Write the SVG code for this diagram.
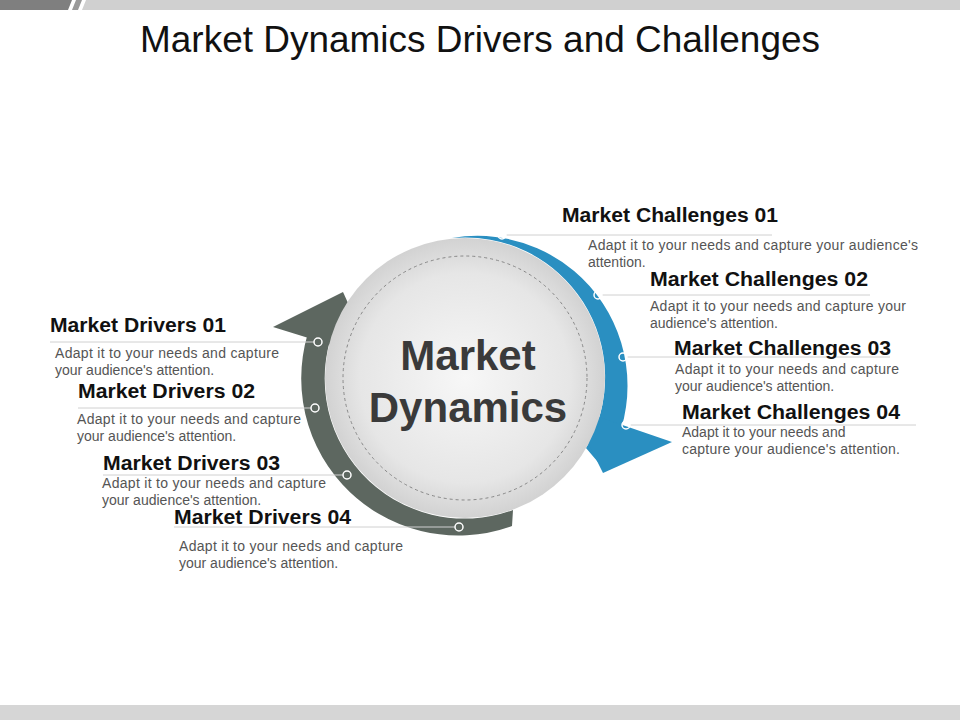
<svg xmlns="http://www.w3.org/2000/svg" width="960" height="720" viewBox="0 0 960 720">
<style>
.h{font-family:"Liberation Sans",Arial,sans-serif;font-weight:bold;font-size:20px;fill:#111}
.d{font-family:"Liberation Sans",Arial,sans-serif;font-size:14px;fill:#555}
.ln{stroke:#d0d0d0;stroke-width:1;fill:none}
.dot{fill:none;stroke:#fff;stroke-width:1.5}
</style>
<defs>
<radialGradient id="g" cx="50%" cy="50%" r="50%">
<stop offset="0" stop-color="#f7f7f7"/><stop offset="0.75" stop-color="#e6e6e6"/><stop offset="1" stop-color="#d2d2d2"/>
</radialGradient>
</defs>
<rect width="960" height="720" fill="#fff"/>
<polygon points="0,0 72,0 68,10 0,10" fill="#7f7f7f"/>
<polygon points="76,0 82,0 78,10 72,10" fill="#9a9a9a"/>
<polygon points="86,0 960,0 960,10 82,10" fill="#d0d0d0"/>
<rect x="0" y="705" width="960" height="15" fill="#d6d6d6"/>
<text x="480" y="52" text-anchor="middle" font-family="Liberation Sans,Arial,sans-serif" font-size="36" textLength="680" lengthAdjust="spacingAndGlyphs" fill="#111">Market Dynamics Drivers and Challenges</text>

<g id="bands">
<path d="M452,238 A150,150 0 0 1 603,468 L586,448 A140,140 0 0 0 452,238 Z" fill="#2a8fc1"/>
<polygon points="570,407 672,442 603,473" fill="#2a8fc1"/>
<path d="M512,526 A157,157 0 0 1 316,312 L338,319 A140,140 0 0 0 513,510 Z" fill="#5d6760"/>
<polygon points="343,292 273,327 373,358" fill="#5d6760"/>
</g>
<g id="center">
<circle cx="465" cy="378" r="140" fill="url(#g)"/>
<circle cx="465" cy="378" r="122" fill="none" stroke="#888" stroke-width="1" stroke-dasharray="3,3"/>
<text x="468" y="370" text-anchor="middle" font-family="Liberation Sans,Arial,sans-serif" font-weight="bold" font-size="42" fill="#3a3a3a">Market</text>
<text x="468" y="422" text-anchor="middle" font-family="Liberation Sans,Arial,sans-serif" font-weight="bold" font-size="42" fill="#3a3a3a">Dynamics</text>
</g>
<g id="connectors">
<line class="ln" x1="506" y1="235" x2="772" y2="235"/>
<line class="ln" x1="602" y1="295" x2="870" y2="295"/>
<line class="ln" x1="627" y1="357" x2="890" y2="357"/>
<line class="ln" x1="630" y1="425" x2="916" y2="425"/>
<line class="ln" x1="314" y1="342" x2="50" y2="342"/>
<line class="ln" x1="311" y1="408" x2="78" y2="408"/>
<line class="ln" x1="343" y1="475" x2="103" y2="475"/>
<line class="ln" x1="455" y1="527" x2="174" y2="527"/>
<circle class="dot" cx="502" cy="235" r="4"/>
<circle class="dot" cx="598" cy="295" r="4"/>
<circle class="dot" cx="623" cy="357" r="4"/>
<circle class="dot" cx="626" cy="425" r="4"/>
<circle class="dot" cx="318" cy="342" r="4"/>
<circle class="dot" cx="315" cy="408" r="4"/>
<circle class="dot" cx="347" cy="475" r="4"/>
<circle class="dot" cx="459" cy="527" r="4"/>
</g>
<g id="c1"><text class="h" x="562" y="222" textLength="216" lengthAdjust="spacingAndGlyphs">Market Challenges 01</text>
<text class="d" x="588" y="250" textLength="330">Adapt it to your needs and capture your audience's</text><text class="d" x="588" y="267">attention.</text></g>
<g id="c2"><text class="h" x="650" y="286" textLength="218" lengthAdjust="spacingAndGlyphs">Market Challenges 02</text>
<text class="d" x="650" y="311" textLength="256">Adapt it to your needs and capture your</text><text class="d" x="650" y="328">audience's attention.</text></g>
<g id="c3"><text class="h" x="674" y="355" textLength="217" lengthAdjust="spacingAndGlyphs">Market Challenges 03</text>
<text class="d" x="675" y="374" textLength="224">Adapt it to your needs and capture</text><text class="d" x="675" y="391">your audience's attention.</text></g>
<g id="c4"><text class="h" x="682" y="419" textLength="218" lengthAdjust="spacingAndGlyphs">Market Challenges 04</text>
<text class="d" x="682" y="437">Adapt it to your needs and</text><text class="d" x="682" y="454" textLength="218">capture your audience's attention.</text></g>
<g id="d1"><text class="h" x="50" y="332" textLength="176" lengthAdjust="spacingAndGlyphs">Market Drivers 01</text>
<text class="d" x="55" y="358" textLength="224">Adapt it to your needs and capture</text><text class="d" x="55" y="375">your audience's attention.</text></g>
<g id="d2"><text class="h" x="78" y="398" textLength="177" lengthAdjust="spacingAndGlyphs">Market Drivers 02</text>
<text class="d" x="77" y="424" textLength="224">Adapt it to your needs and capture</text><text class="d" x="77" y="441">your audience's attention.</text></g>
<g id="d3"><text class="h" x="103" y="470" textLength="177" lengthAdjust="spacingAndGlyphs">Market Drivers 03</text>
<text class="d" x="102" y="488" textLength="224">Adapt it to your needs and capture</text><text class="d" x="102" y="505">your audience's attention.</text></g>
<g id="d4"><text class="h" x="174" y="524" textLength="177" lengthAdjust="spacingAndGlyphs">Market Drivers 04</text>
<text class="d" x="179" y="551" textLength="224">Adapt it to your needs and capture</text><text class="d" x="179" y="568">your audience's attention.</text></g>
</svg>
